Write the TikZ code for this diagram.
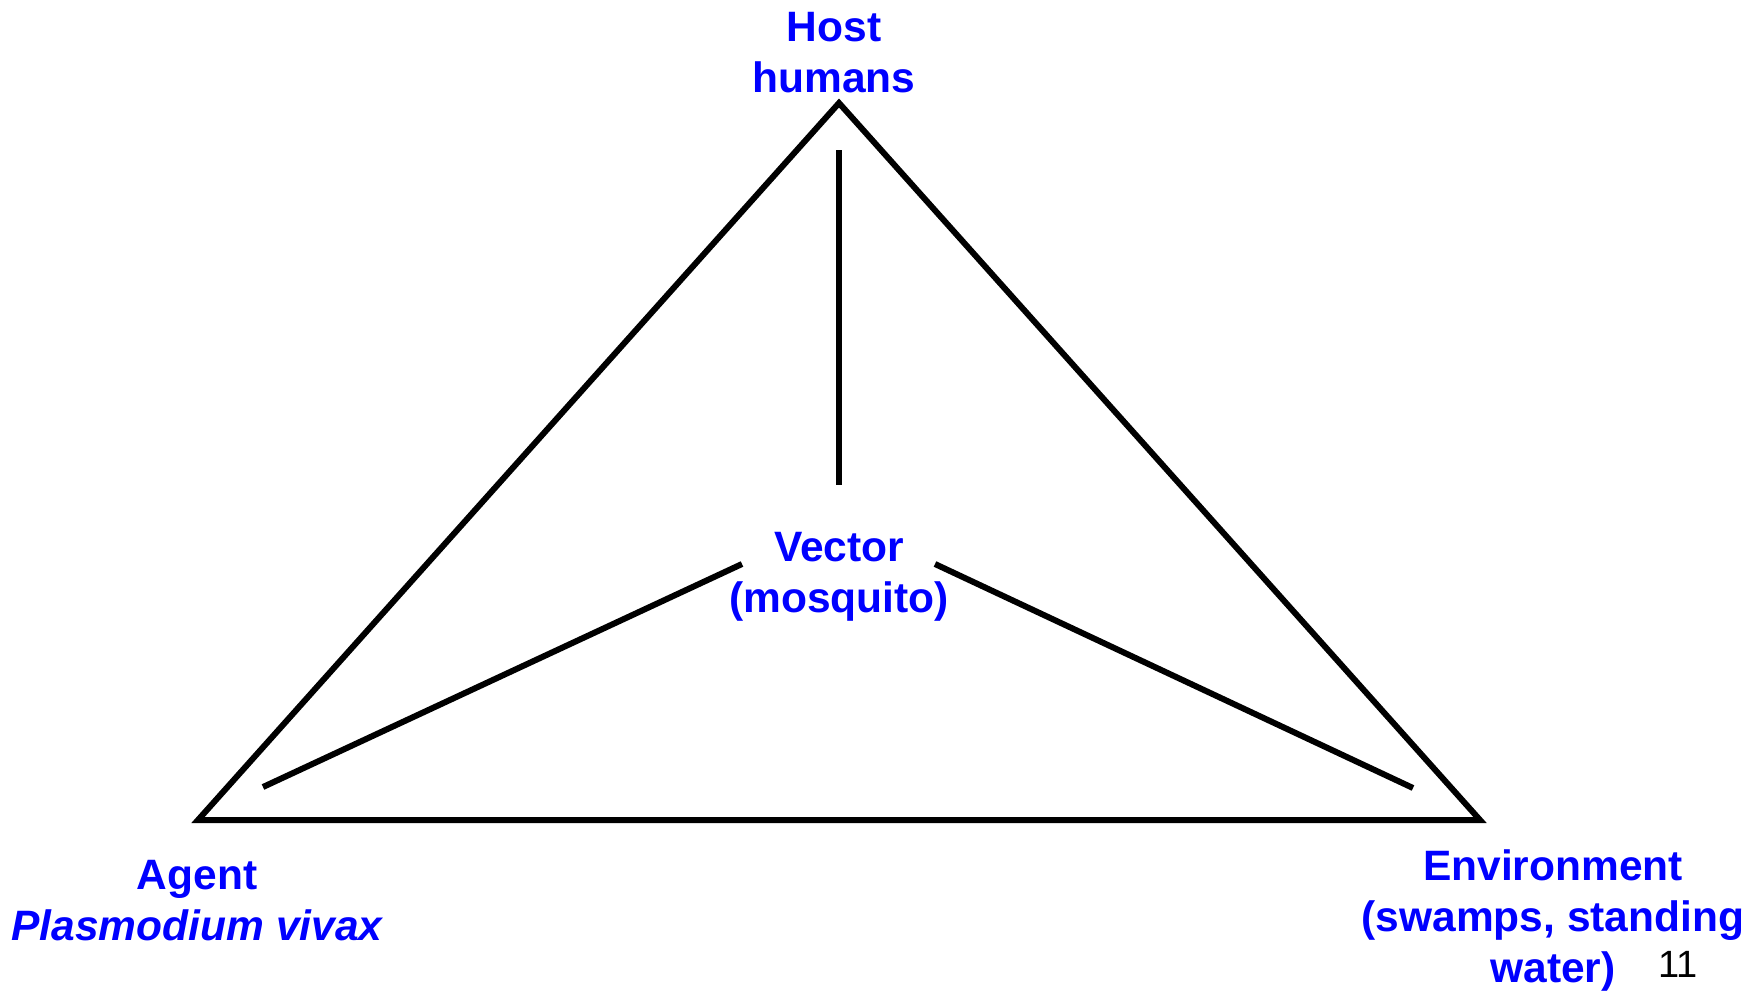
\documentclass[tikz,border=0pt]{standalone}
\usepackage{fontspec}
\setmainfont{Liberation Sans}
\usepackage{tikz}
\usetikzlibrary{positioning}
\definecolor{labelblue}{RGB}{0,0,255}

\begin{document}
\begin{tikzpicture}[x=1pt, y=-1pt,
    label/.style={text=labelblue, font=\fontsize{42.5}{51}\selectfont\bfseries, align=center, inner sep=0pt, anchor=base},
    edge/.style={line width=6pt}]
    \useasboundingbox (0,0) rectangle (1763,991);

    % Corners of the triangle
    \coordinate (hostc) at (839,103);
    \coordinate (agentc) at (198,820);
    \coordinate (envc) at (1480,820);

    % Labels (anchored on the last line)
    \node[label] (host) at (834,92) {Host\\humans};
    \node[label] (vector) at (839,612) {Vector\\(mosquito)};
    \node[label] (agent) at (197,940) {Agent\\\itshape Plasmodium vivax};
    \node[label] (env) at (1553,982) {Environment\\(swamps, standing\\water)};
    \node[font=\fontsize{38}{44}\selectfont, inner sep=0pt, anchor=base] (page) at (1678,977) {11};

    % Triangle
    \draw[edge] (hostc) -- (agentc) -- (envc) -- cycle;

    % Lines to the vector
    \coordinate (vtop) at (839,150);
    \coordinate (vbot) at (839,485);
    \coordinate (vleft) at (742,564);
    \coordinate (vright) at (935,564);
    \coordinate (aend) at (263,787);
    \coordinate (eend) at (1413,788);
    \draw[edge] (vtop) -- (vbot);
    \draw[edge] (vleft) -- (aend);
    \draw[edge] (vright) -- (eend);
\end{tikzpicture}
\end{document}
